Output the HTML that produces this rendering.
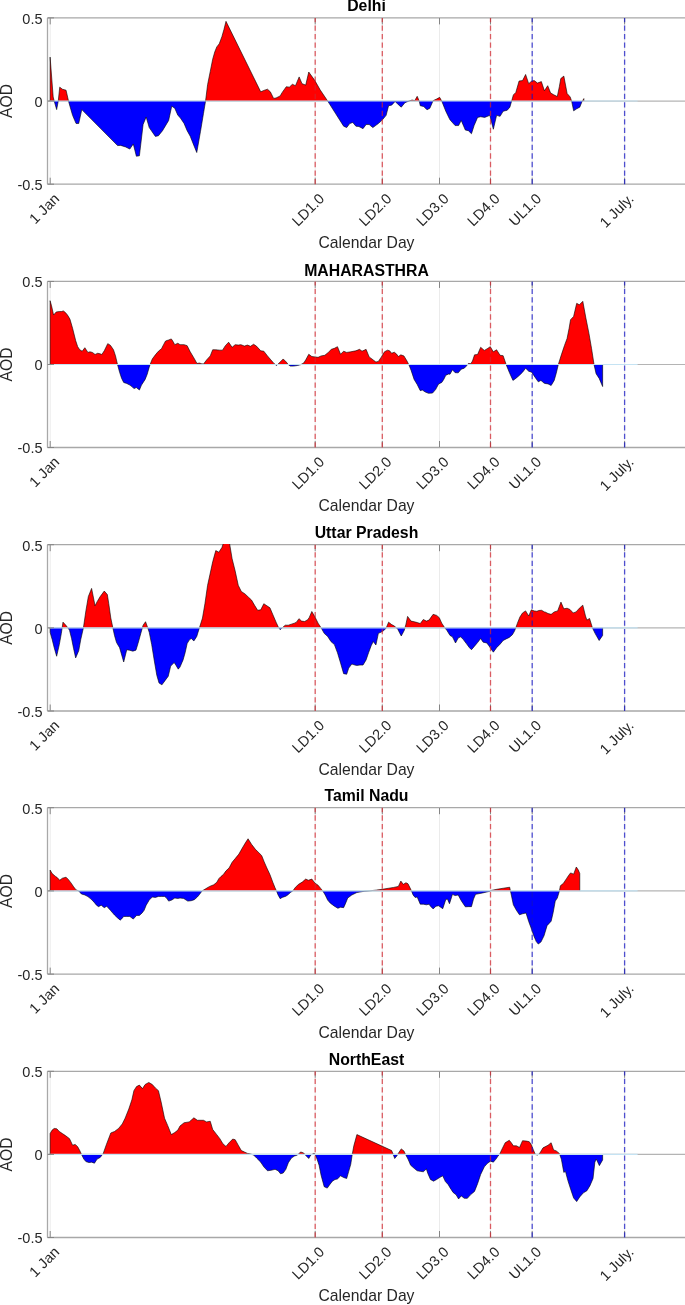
<!DOCTYPE html>
<html><head><meta charset="utf-8"><style>
html,body{margin:0;padding:0;background:#fff;}
svg{display:block;filter:blur(0.45px);}
.t{font-family:"Liberation Sans",sans-serif;font-size:14.5px;fill:#262626;}
.xl{font-family:"Liberation Sans",sans-serif;font-size:15.7px;fill:#262626;}
.ti{font-family:"Liberation Sans",sans-serif;font-size:15.8px;font-weight:bold;fill:#000;}
</style></head><body>
<svg width="685" height="1305" viewBox="0 0 685 1305">
<rect width="685" height="1305" fill="#fff"/>
<g transform="translate(0,101.04)">
<clipPath id="ca0"><rect x="0" y="-83.76" width="700" height="83.76"/></clipPath>
<clipPath id="cb0"><rect x="0" y="0" width="700" height="83.16"/></clipPath>
<clipPath id="cc0"><rect x="0" y="-83.76" width="700" height="167.52"/></clipPath>
<path d="M47.5,-83.16 L686,-83.16 M47.5,-83.16 L47.5,83.16 M47.5,83.16 L686,83.16" stroke="#a8a8a8" stroke-width="1.3" fill="none"/>
<path d="M50.2,-83.16 V83.16 M315.2,-83.16 V83.16 M382.3,-83.16 V83.16 M439.5,-83.16 V83.16 M490.5,-83.16 V83.16 M532.2,-83.16 V83.16 M624.6,-83.16 V83.16" stroke="#ebebeb" stroke-width="1" fill="none"/>
<line x1="47.5" y1="0" x2="686" y2="0" stroke="#b4b4b4" stroke-width="1.2"/>
<path d="M50.11,0 L50.11,-43.94 L53.18,-4.09 L54.2,0Z M58.28,0 L59.72,-13.9 L62.37,-11.85 L66.05,-10.83 L68.5,0Z M205.55,0 L207.59,-16.35 L210.25,-29.64 L212.7,-41.9 L214.74,-49.05 L216.79,-54.16 L219.24,-57.23 L221.9,-64.38 L223.94,-71.53 L225.99,-79.71 L260.73,-9.2 L263.8,-10.63 L267.47,-11.85 L270.34,-9.2 L273.61,-2.66 L276.06,-3.07 L280.15,-5.11 L282.19,-8.58 L286.28,-14.31 L289.34,-13.9 L292.41,-16.76 L295.47,-15.33 L299.15,-24.12 L302.01,-17.37 L305.69,-15.94 L308.76,-29.02 L314.89,-20.44 L320.11,-11.24 L327.67,0Z M409.01,0 L412.08,-1.02 L414.74,-0.41 L417.19,-4.7 L419.23,0Z M432.95,0 L433.13,-0.41 L436.61,-2.04 L439.67,-3.68 L441.72,0Z M511.64,0 L511.93,-1.02 L513.36,-6.13 L515.81,-8.58 L519.08,-20.03 L522.55,-20.44 L525.62,-26.57 L528.69,-17.37 L531.75,-20.03 L534.2,-20.44 L537.47,-17.99 L541.36,-19.42 L544.42,-10.22 L547.69,-15.33 L550.55,-8.18 L553.21,-6.54 L557.3,-4.5 L559.34,-14.31 L560.77,-22.48 L563.84,-24.93 L567.11,-7.56 L570.18,-4.09 L571.61,0Z M582.43,0 L583.87,-2.45 L583.87,0Z" fill="#ff0000" clip-path="url(#cc0)"/>
<path d="M54.2,0 L56.65,8.58 L58.28,0Z M68.5,0 L69.93,5.11 L72.59,14.31 L76.07,22.48 L78.72,22.48 L81.79,8.58 L117.55,44.55 L120.62,44.35 L125.73,45.99 L129.82,48.03 L133.29,42.92 L136.36,55.18 L139.42,54.77 L143.1,23.5 L146.17,15.94 L149.23,26.57 L155.36,35.36 L158.43,34.74 L162.52,29.64 L168.65,19.42 L171.72,5.11 L174.78,7.15 L177.85,14.31 L180,16.35 L184.09,22.48 L187.15,29.64 L190.22,35.15 L193.28,42.92 L196.76,51.5 L200.44,30.66 L203.5,12.26 L205.55,0Z M327.67,0 L335.44,12.26 L343.61,25.14 L346.68,26.57 L349.74,22.48 L352.81,21.46 L355.88,25.14 L358.94,25.55 L363.03,27.59 L366.09,23.5 L369.16,23.5 L372.84,26.57 L378.36,22.48 L382.45,18.8 L386.12,14.31 L388.58,4.7 L391.64,4.09 L395.12,0.41 L398.39,3.68 L401.25,6.13 L404.93,1.64 L409.01,0Z M419.23,0 L420.26,4.7 L423.73,5.52 L427,8.79 L429.86,7.15 L432.95,0Z M441.72,0 L445.8,10.22 L449.28,17.37 L450,18.8 L455.11,24.53 L458.58,24.53 L461.24,19.42 L465.33,29.02 L468.39,29.64 L471.46,32.7 L474.12,24.53 L477.59,16.35 L480.66,15.74 L484.74,16.35 L489.85,14.31 L493.33,28.2 L496.6,14.31 L500.07,15.33 L503.14,10.22 L507.23,9.2 L509.88,6.13 L511.64,0Z M571.61,0 L573.65,9.81 L576.72,7.77 L579.78,6.13 L581.82,1.02 L582.43,0Z" fill="#0000ff" clip-path="url(#cc0)"/>
<path d="M50.11,0 L50.11,-43.94 L53.18,-4.09 L54.2,0 L56.65,8.58 L58.28,0 L59.72,-13.9 L62.37,-11.85 L66.05,-10.83 L68.5,0 L69.93,5.11 L72.59,14.31 L76.07,22.48 L78.72,22.48 L81.79,8.58 L117.55,44.55 L120.62,44.35 L125.73,45.99 L129.82,48.03 L133.29,42.92 L136.36,55.18 L139.42,54.77 L143.1,23.5 L146.17,15.94 L149.23,26.57 L155.36,35.36 L158.43,34.74 L162.52,29.64 L168.65,19.42 L171.72,5.11 L174.78,7.15 L177.85,14.31 L180,16.35 L184.09,22.48 L187.15,29.64 L190.22,35.15 L193.28,42.92 L196.76,51.5 L200.44,30.66 L203.5,12.26 L205.55,0 L207.59,-16.35 L210.25,-29.64 L212.7,-41.9 L214.74,-49.05 L216.79,-54.16 L219.24,-57.23 L221.9,-64.38 L223.94,-71.53 L225.99,-79.71 L260.73,-9.2 L263.8,-10.63 L267.47,-11.85 L270.34,-9.2 L273.61,-2.66 L276.06,-3.07 L280.15,-5.11 L282.19,-8.58 L286.28,-14.31 L289.34,-13.9 L292.41,-16.76 L295.47,-15.33 L299.15,-24.12 L302.01,-17.37 L305.69,-15.94 L308.76,-29.02 L314.89,-20.44 L320.11,-11.24 L327.67,0 L335.44,12.26 L343.61,25.14 L346.68,26.57 L349.74,22.48 L352.81,21.46 L355.88,25.14 L358.94,25.55 L363.03,27.59 L366.09,23.5 L369.16,23.5 L372.84,26.57 L378.36,22.48 L382.45,18.8 L386.12,14.31 L388.58,4.7 L391.64,4.09 L395.12,0.41 L398.39,3.68 L401.25,6.13 L404.93,1.64 L409.01,0 L412.08,-1.02 L414.74,-0.41 L417.19,-4.7 L419.23,0 L420.26,4.7 L423.73,5.52 L427,8.79 L429.86,7.15 L433.13,-0.41 L436.61,-2.04 L439.67,-3.68 L441.72,0 L445.8,10.22 L449.28,17.37 L450,18.8 L455.11,24.53 L458.58,24.53 L461.24,19.42 L465.33,29.02 L468.39,29.64 L471.46,32.7 L474.12,24.53 L477.59,16.35 L480.66,15.74 L484.74,16.35 L489.85,14.31 L493.33,28.2 L496.6,14.31 L500.07,15.33 L503.14,10.22 L507.23,9.2 L509.88,6.13 L511.93,-1.02 L513.36,-6.13 L515.81,-8.58 L519.08,-20.03 L522.55,-20.44 L525.62,-26.57 L528.69,-17.37 L531.75,-20.03 L534.2,-20.44 L537.47,-17.99 L541.36,-19.42 L544.42,-10.22 L547.69,-15.33 L550.55,-8.18 L553.21,-6.54 L557.3,-4.5 L559.34,-14.31 L560.77,-22.48 L563.84,-24.93 L567.11,-7.56 L570.18,-4.09 L571.61,0 L573.65,9.81 L576.72,7.77 L579.78,6.13 L581.82,1.02 L583.87,-2.45 L583.87,0" fill="none" stroke="#000" stroke-width="0.6" stroke-linejoin="round" clip-path="url(#cc0)"/>
<line x1="50.11" y1="0" x2="637.6" y2="0" stroke="#c5e3f3" stroke-width="1.1"/>
<path d="M50.2,-83.16 v6.5 M50.2,83.16 v-6.5 M315.2,-83.16 v6.5 M315.2,83.16 v-6.5 M382.3,-83.16 v6.5 M382.3,83.16 v-6.5 M439.5,-83.16 v6.5 M439.5,83.16 v-6.5 M490.5,-83.16 v6.5 M490.5,83.16 v-6.5 M532.2,-83.16 v6.5 M532.2,83.16 v-6.5 M624.6,-83.16 v6.5 M624.6,83.16 v-6.5 M47.5,-83.16 h6.5 M47.5,0 h6.5 M47.5,83.16 h6.5" stroke="#858585" stroke-width="1" fill="none"/>
<line x1="315.2" y1="83.16" x2="315.2" y2="-83.16" stroke="#d2242c" stroke-opacity="0.72" stroke-width="1.3" stroke-dasharray="5.3,3.225"/>
<line x1="382.3" y1="83.16" x2="382.3" y2="-83.16" stroke="#d2242c" stroke-opacity="0.72" stroke-width="1.3" stroke-dasharray="5.3,3.225"/>
<line x1="490.5" y1="83.16" x2="490.5" y2="-83.16" stroke="#d2242c" stroke-opacity="0.72" stroke-width="1.3" stroke-dasharray="5.3,3.225"/>
<line x1="532.2" y1="83.16" x2="532.2" y2="-83.16" stroke="#1010c4" stroke-opacity="0.72" stroke-width="1.3" stroke-dasharray="5.3,3.225"/>
<line x1="624.6" y1="83.16" x2="624.6" y2="-83.16" stroke="#1010c4" stroke-opacity="0.72" stroke-width="1.3" stroke-dasharray="5.3,3.225"/>
<text x="42.5" y="-77.36" text-anchor="end" class="t">0.5</text>
<text x="42.5" y="5.8" text-anchor="end" class="t">0</text>
<text x="42.5" y="88.96" text-anchor="end" class="t">-0.5</text>
<text transform="translate(60.3,98.56) rotate(-45)" text-anchor="end" class="t">1 Jan</text>
<text transform="translate(325.3,98.56) rotate(-45)" text-anchor="end" class="t">LD1.0</text>
<text transform="translate(392.4,98.56) rotate(-45)" text-anchor="end" class="t">LD2.0</text>
<text transform="translate(449.6,98.56) rotate(-45)" text-anchor="end" class="t">LD3.0</text>
<text transform="translate(500.6,98.56) rotate(-45)" text-anchor="end" class="t">LD4.0</text>
<text transform="translate(542.3,98.56) rotate(-45)" text-anchor="end" class="t">UL1.0</text>
<text transform="translate(634.7,98.56) rotate(-45)" text-anchor="end" class="t">1 July.</text>
<text x="366.5" y="-89.86" text-anchor="middle" class="ti">Delhi</text>
<text x="366.5" y="147.16" text-anchor="middle" class="xl">Calendar Day</text>
<text transform="translate(11.7,0) rotate(-90)" text-anchor="middle" class="xl">AOD</text>
</g>
<g transform="translate(0,364.48)">
<clipPath id="ca1"><rect x="0" y="-83.63" width="700" height="83.63"/></clipPath>
<clipPath id="cb1"><rect x="0" y="0" width="700" height="83.02"/></clipPath>
<clipPath id="cc1"><rect x="0" y="-83.63" width="700" height="167.25"/></clipPath>
<path d="M47.5,-83.03 L686,-83.03 M47.5,-83.03 L47.5,83.02 M47.5,83.02 L686,83.02" stroke="#a8a8a8" stroke-width="1.3" fill="none"/>
<path d="M50.2,-83.03 V83.02 M315.2,-83.03 V83.02 M382.3,-83.03 V83.02 M439.5,-83.03 V83.02 M490.5,-83.03 V83.02 M532.2,-83.03 V83.02 M624.6,-83.03 V83.02" stroke="#ebebeb" stroke-width="1" fill="none"/>
<line x1="47.5" y1="0" x2="686" y2="0" stroke="#b4b4b4" stroke-width="1.2"/>
<path d="M50.11,0 L50.11,-63.77 L51.54,-58.66 L53.58,-49.46 L56.24,-52.53 L59.31,-52.93 L61.35,-52.93 L63.39,-53.55 L65.44,-51.91 L67.48,-49.46 L69.93,-45.37 L72.59,-36.18 L75.66,-23.91 L77.7,-17.78 L79.74,-14.72 L82.2,-13.28 L84.85,-16.76 L87.92,-12.06 L89.96,-12.67 L92.42,-12.06 L95.07,-10.01 L97.73,-11.24 L100.18,-10.63 L101.82,-10.01 L104.27,-13.69 L107.74,-20.85 L110.4,-19.21 L113.47,-14.72 L115.51,-8.58 L117.51,0Z M150.12,0 L150.26,-0.41 L152.3,-5.52 L155.36,-9.61 L158.43,-13.28 L161.5,-15.74 L163.54,-19.82 L165.58,-23.5 L168.65,-24.53 L171.31,-25.55 L172.74,-23.5 L174.78,-19.82 L177.85,-21.26 L180,-19.82 L184.09,-19.82 L187.15,-18.8 L190.22,-12.67 L193.9,-6.54 L196.96,-1.02 L199.42,-1.43 L201.46,-0.82 L203.5,-0.41 L206.57,-4.5 L210.25,-8.58 L212.7,-14.72 L215.77,-14.72 L219.85,-14.31 L222.51,-14.31 L225.37,-18.8 L228.64,-22.28 L232.12,-17.17 L235.18,-19.82 L238.25,-19.42 L240.91,-19.82 L244.38,-18.39 L247.45,-19.42 L250.51,-18.19 L253.58,-20.23 L256.64,-18.19 L260.73,-13.69 L263.8,-13.28 L267.47,-8.58 L270.95,-4.5 L274.01,-1.02 L275.24,0Z M277.64,0 L278.1,-0.41 L280.15,-2.45 L283.21,-5.52 L286.28,-2.45 L288.16,0Z M300.97,0 L303.65,-1.43 L305.69,-4.5 L308.76,-10.22 L311.82,-7.97 L315,-7.56 L318.07,-7.15 L321.13,-8.58 L324.81,-9.2 L328.28,-12.06 L331.35,-15.12 L334.42,-16.15 L337.48,-17.78 L340.55,-10.22 L343.61,-13.28 L346.68,-12.06 L350.77,-12.67 L355.88,-13.69 L359.55,-15.12 L362.01,-13.28 L366.09,-15.12 L369.16,-7.56 L373.25,-4.5 L375.91,-2.45 L378.36,-3.07 L381.42,-7.56 L384.49,-12.67 L387.55,-14.31 L389.6,-13.69 L391.64,-11.24 L394.3,-12.26 L396.34,-10.63 L398.39,-7.97 L400.84,-9.61 L403.91,-8.58 L406.97,-3.47 L408.71,0Z M467.61,0 L468.39,-1.02 L470.85,-0.82 L472.48,-3.47 L474.53,-9.61 L477.59,-10.01 L480.66,-17.17 L484.34,-14.1 L487.2,-15.74 L490.26,-17.78 L493.33,-12.67 L496.6,-14.72 L500.07,-9.2 L503.14,-8.79 L506.13,0Z M558.35,0 L561.35,-9.61 L564.42,-18.8 L567.07,-25.96 L569.12,-36.18 L570.55,-44.76 L573.61,-48.03 L576.68,-61.11 L579.34,-59.68 L582.81,-63.15 L585.88,-46.39 L588.94,-31.07 L591.6,-15.74 L594.02,0Z" fill="#ff0000" clip-path="url(#cc1)"/>
<path d="M117.51,0 L117.55,0.2 L119.6,7.77 L121.64,13.9 L123.69,17.99 L126.75,19.01 L129.82,20.64 L131.86,22.07 L133.91,24.12 L136.36,23.09 L139.42,25.55 L141.47,20.64 L145.15,14.92 L147.19,9.81 L149.23,2.66 L150.12,0Z M275.24,0 L276.47,1.02 L277.64,0Z M288.16,0 L288.32,0.2 L290.36,1.64 L293.43,1.64 L297.52,1.02 L300.58,0.2 L300.97,0Z M408.71,0 L409.01,0.61 L411.06,5.72 L414.12,14.92 L417.19,20.03 L420.26,26.16 L422.3,25.55 L425.36,27.59 L428.43,28.82 L432.52,28.61 L435.58,25.14 L438.65,19.42 L441.72,17.99 L443.76,14.92 L445.8,10.83 L448.87,9.4 L450,9.81 L452.45,5.31 L455.11,8.18 L458.18,8.38 L461.24,4.7 L464.31,3.68 L466.35,1.64 L467.61,0Z M506.13,0 L506.2,0.2 L509.27,7.77 L512.95,15.94 L515.81,13.9 L519.49,10.83 L522.55,7.77 L525.62,3.68 L528.69,6.74 L531.75,7.77 L534.82,12.47 L538.29,17.37 L540.95,15.94 L544.01,18.6 L545,19.01 L548.07,19.42 L551.13,21.05 L554.2,15.94 L556.24,8.79 L558.28,0.2 L558.35,0Z M594.02,0 L594.05,0.2 L596.09,9.2 L599.16,13.9 L602.64,22.07 L602.64,0Z" fill="#0000ff" clip-path="url(#cc1)"/>
<path d="M50.11,0 L50.11,-63.77 L51.54,-58.66 L53.58,-49.46 L56.24,-52.53 L59.31,-52.93 L61.35,-52.93 L63.39,-53.55 L65.44,-51.91 L67.48,-49.46 L69.93,-45.37 L72.59,-36.18 L75.66,-23.91 L77.7,-17.78 L79.74,-14.72 L82.2,-13.28 L84.85,-16.76 L87.92,-12.06 L89.96,-12.67 L92.42,-12.06 L95.07,-10.01 L97.73,-11.24 L100.18,-10.63 L101.82,-10.01 L104.27,-13.69 L107.74,-20.85 L110.4,-19.21 L113.47,-14.72 L115.51,-8.58 L117.55,0.2 L119.6,7.77 L121.64,13.9 L123.69,17.99 L126.75,19.01 L129.82,20.64 L131.86,22.07 L133.91,24.12 L136.36,23.09 L139.42,25.55 L141.47,20.64 L145.15,14.92 L147.19,9.81 L149.23,2.66 L150.26,-0.41 L152.3,-5.52 L155.36,-9.61 L158.43,-13.28 L161.5,-15.74 L163.54,-19.82 L165.58,-23.5 L168.65,-24.53 L171.31,-25.55 L172.74,-23.5 L174.78,-19.82 L177.85,-21.26 L180,-19.82 L184.09,-19.82 L187.15,-18.8 L190.22,-12.67 L193.9,-6.54 L196.96,-1.02 L199.42,-1.43 L201.46,-0.82 L203.5,-0.41 L206.57,-4.5 L210.25,-8.58 L212.7,-14.72 L215.77,-14.72 L219.85,-14.31 L222.51,-14.31 L225.37,-18.8 L228.64,-22.28 L232.12,-17.17 L235.18,-19.82 L238.25,-19.42 L240.91,-19.82 L244.38,-18.39 L247.45,-19.42 L250.51,-18.19 L253.58,-20.23 L256.64,-18.19 L260.73,-13.69 L263.8,-13.28 L267.47,-8.58 L270.95,-4.5 L274.01,-1.02 L276.47,1.02 L278.1,-0.41 L280.15,-2.45 L283.21,-5.52 L286.28,-2.45 L288.32,0.2 L290.36,1.64 L293.43,1.64 L297.52,1.02 L300.58,0.2 L303.65,-1.43 L305.69,-4.5 L308.76,-10.22 L311.82,-7.97 L315,-7.56 L318.07,-7.15 L321.13,-8.58 L324.81,-9.2 L328.28,-12.06 L331.35,-15.12 L334.42,-16.15 L337.48,-17.78 L340.55,-10.22 L343.61,-13.28 L346.68,-12.06 L350.77,-12.67 L355.88,-13.69 L359.55,-15.12 L362.01,-13.28 L366.09,-15.12 L369.16,-7.56 L373.25,-4.5 L375.91,-2.45 L378.36,-3.07 L381.42,-7.56 L384.49,-12.67 L387.55,-14.31 L389.6,-13.69 L391.64,-11.24 L394.3,-12.26 L396.34,-10.63 L398.39,-7.97 L400.84,-9.61 L403.91,-8.58 L406.97,-3.47 L409.01,0.61 L411.06,5.72 L414.12,14.92 L417.19,20.03 L420.26,26.16 L422.3,25.55 L425.36,27.59 L428.43,28.82 L432.52,28.61 L435.58,25.14 L438.65,19.42 L441.72,17.99 L443.76,14.92 L445.8,10.83 L448.87,9.4 L450,9.81 L452.45,5.31 L455.11,8.18 L458.18,8.38 L461.24,4.7 L464.31,3.68 L466.35,1.64 L468.39,-1.02 L470.85,-0.82 L472.48,-3.47 L474.53,-9.61 L477.59,-10.01 L480.66,-17.17 L484.34,-14.1 L487.2,-15.74 L490.26,-17.78 L493.33,-12.67 L496.6,-14.72 L500.07,-9.2 L503.14,-8.79 L506.2,0.2 L509.27,7.77 L512.95,15.94 L515.81,13.9 L519.49,10.83 L522.55,7.77 L525.62,3.68 L528.69,6.74 L531.75,7.77 L534.82,12.47 L538.29,17.37 L540.95,15.94 L544.01,18.6 L545,19.01 L548.07,19.42 L551.13,21.05 L554.2,15.94 L556.24,8.79 L558.28,0.2 L561.35,-9.61 L564.42,-18.8 L567.07,-25.96 L569.12,-36.18 L570.55,-44.76 L573.61,-48.03 L576.68,-61.11 L579.34,-59.68 L582.81,-63.15 L585.88,-46.39 L588.94,-31.07 L591.6,-15.74 L594.05,0.2 L596.09,9.2 L599.16,13.9 L602.64,22.07 L602.64,0" fill="none" stroke="#000" stroke-width="0.6" stroke-linejoin="round" clip-path="url(#cc1)"/>
<line x1="50.11" y1="0" x2="637.6" y2="0" stroke="#c5e3f3" stroke-width="1.1"/>
<path d="M50.2,-83.03 v6.5 M50.2,83.02 v-6.5 M315.2,-83.03 v6.5 M315.2,83.02 v-6.5 M382.3,-83.03 v6.5 M382.3,83.02 v-6.5 M439.5,-83.03 v6.5 M439.5,83.02 v-6.5 M490.5,-83.03 v6.5 M490.5,83.02 v-6.5 M532.2,-83.03 v6.5 M532.2,83.02 v-6.5 M624.6,-83.03 v6.5 M624.6,83.02 v-6.5 M47.5,-83.03 h6.5 M47.5,0 h6.5 M47.5,83.02 h6.5" stroke="#858585" stroke-width="1" fill="none"/>
<line x1="315.2" y1="83.02" x2="315.2" y2="-83.03" stroke="#d2242c" stroke-opacity="0.72" stroke-width="1.3" stroke-dasharray="5.3,3.225"/>
<line x1="382.3" y1="83.02" x2="382.3" y2="-83.03" stroke="#d2242c" stroke-opacity="0.72" stroke-width="1.3" stroke-dasharray="5.3,3.225"/>
<line x1="490.5" y1="83.02" x2="490.5" y2="-83.03" stroke="#d2242c" stroke-opacity="0.72" stroke-width="1.3" stroke-dasharray="5.3,3.225"/>
<line x1="532.2" y1="83.02" x2="532.2" y2="-83.03" stroke="#1010c4" stroke-opacity="0.72" stroke-width="1.3" stroke-dasharray="5.3,3.225"/>
<line x1="624.6" y1="83.02" x2="624.6" y2="-83.03" stroke="#1010c4" stroke-opacity="0.72" stroke-width="1.3" stroke-dasharray="5.3,3.225"/>
<text x="42.5" y="-77.23" text-anchor="end" class="t">0.5</text>
<text x="42.5" y="5.8" text-anchor="end" class="t">0</text>
<text x="42.5" y="88.82" text-anchor="end" class="t">-0.5</text>
<text transform="translate(60.3,98.42) rotate(-45)" text-anchor="end" class="t">1 Jan</text>
<text transform="translate(325.3,98.42) rotate(-45)" text-anchor="end" class="t">LD1.0</text>
<text transform="translate(392.4,98.42) rotate(-45)" text-anchor="end" class="t">LD2.0</text>
<text transform="translate(449.6,98.42) rotate(-45)" text-anchor="end" class="t">LD3.0</text>
<text transform="translate(500.6,98.42) rotate(-45)" text-anchor="end" class="t">LD4.0</text>
<text transform="translate(542.3,98.42) rotate(-45)" text-anchor="end" class="t">UL1.0</text>
<text transform="translate(634.7,98.42) rotate(-45)" text-anchor="end" class="t">1 July.</text>
<text x="366.5" y="-88.83" text-anchor="middle" class="ti">MAHARASTHRA</text>
<text x="366.5" y="147.02" text-anchor="middle" class="xl">Calendar Day</text>
<text transform="translate(11.7,0) rotate(-90)" text-anchor="middle" class="xl">AOD</text>
</g>
<g transform="translate(0,627.85)">
<clipPath id="ca2"><rect x="0" y="-83.75" width="700" height="83.75"/></clipPath>
<clipPath id="cb2"><rect x="0" y="0" width="700" height="83.15"/></clipPath>
<clipPath id="cc2"><rect x="0" y="-83.75" width="700" height="167.5"/></clipPath>
<path d="M47.5,-83.15 L686,-83.15 M47.5,-83.15 L47.5,83.15 M47.5,83.15 L686,83.15" stroke="#a8a8a8" stroke-width="1.3" fill="none"/>
<path d="M50.2,-83.15 V83.15 M315.2,-83.15 V83.15 M382.3,-83.15 V83.15 M439.5,-83.15 V83.15 M490.5,-83.15 V83.15 M532.2,-83.15 V83.15 M624.6,-83.15 V83.15" stroke="#ebebeb" stroke-width="1" fill="none"/>
<line x1="47.5" y1="0" x2="686" y2="0" stroke="#b4b4b4" stroke-width="1.2"/>
<path d="M62.15,0 L62.99,-5.72 L65.44,-3.07 L67.89,0Z M83.42,0 L85.88,-16.96 L88.33,-31.27 L91.6,-39.45 L95.07,-22.07 L97.12,-26.16 L100.18,-31.27 L104.27,-36.79 L107.34,-33.31 L108.77,-24.12 L110.81,-9.81 L112.85,0Z M142.36,0 L143.1,-2.66 L145.55,-6.13 L147.19,-1.64 L147.73,0Z M199.42,0 L202.48,-9.81 L204.93,-24.12 L207.59,-42.51 L210.25,-54.77 L212.7,-66.01 L215.77,-77.26 L218.83,-75.62 L221.9,-80.32 L223.53,-85.02 L229.46,-85.02 L232.12,-69.08 L235.18,-56.82 L238.25,-42.51 L241.31,-36.38 L244.99,-33.93 L248.47,-30.66 L251.53,-27.8 L254.6,-22.48 L257.66,-17.58 L260.73,-17.99 L263.8,-24.12 L266.86,-22.07 L269.93,-20.03 L272.99,-12.88 L276.06,-5.72 L278.1,-1.23 L278.92,0Z M282.19,0 L285.26,-2.66 L288.32,-2.66 L291.39,-3.68 L294.45,-4.7 L296.5,-5.72 L298.95,-9.2 L301.61,-6.74 L304.67,-6.34 L307.74,-8.18 L309.17,-10.22 L311.82,-16.35 L315,-10.83 L318.07,-4.7 L321.13,0Z M386.29,0 L388.58,-5.72 L391.64,-3.27 L394.71,-1.64 L396.34,0Z M404.97,0 L405.95,-3.68 L407.58,-11.45 L411.06,-6.74 L414.12,-6.13 L417.19,-5.31 L420.26,-4.29 L423.32,-8.38 L426.39,-6.74 L429.04,-7.77 L433.13,-13.49 L436.61,-12.47 L439.26,-10.22 L441.72,-4.7 L444.78,0Z M515.81,0 L517.45,-4.7 L519.9,-10.83 L522.55,-14.92 L525.62,-16.96 L528.69,-11.85 L531.34,-17.99 L534.2,-16.96 L536.86,-16.55 L538.91,-17.37 L541.56,-17.58 L544.42,-15.94 L545,-15.94 L548.07,-14.31 L551.13,-13.49 L554.2,-15.94 L557.67,-16.96 L560.94,-25.75 L563.8,-19.01 L567.07,-19.62 L569.93,-18.39 L573.2,-14.92 L576.07,-15.94 L579.34,-19.62 L582.81,-22.69 L585.47,-11.85 L586.9,-7.77 L589.55,-9.4 L592.42,0Z" fill="#ff0000" clip-path="url(#cc2)"/>
<path d="M50.11,0 L50.11,4.5 L52.15,11.65 L54.2,19.82 L56.65,28.41 L59.31,16.76 L61.35,5.52 L62.15,0Z M67.89,0 L69.53,2.45 L71.57,10.63 L73.61,20.85 L75.66,30.04 L78.72,22.89 L80.77,11.65 L83.42,0Z M112.85,0 L114.49,7.56 L116.53,14.72 L119.6,19.82 L123.69,34.13 L126.75,21.87 L129.82,22.48 L132.88,23.3 L135.95,22.28 L137.99,15.74 L140.65,6.13 L142.36,0Z M147.73,0 L149.23,4.5 L151.69,16.76 L154.34,33.11 L156.8,47.42 L159.04,55.18 L161.91,57.02 L165.18,52.53 L168.24,48.44 L170.69,38.22 L174.17,34.74 L175.8,37.2 L178.26,41.28 L180,39.24 L183.07,32.09 L185.11,24.93 L187.15,15.74 L189.2,12.26 L191.24,10.63 L193.9,13.08 L196.76,8.58 L199.42,0Z M278.92,0 L280.15,1.84 L282.19,0Z M321.13,0 L324.2,5.52 L327.67,8.58 L330.94,13.69 L334.42,16.76 L337.48,24.93 L340.55,35.15 L343.61,45.78 L346.68,46.39 L348.72,40.26 L351.79,36.18 L354.85,37.2 L356.9,37.61 L359.96,37.2 L363.03,37.2 L366.09,32.09 L368.55,24.93 L371.2,17.78 L373.25,13.69 L375.91,17.17 L378.36,5.52 L380.81,4.5 L383.47,2.86 L386.12,0.41 L386.29,0Z M396.34,0 L397.77,1.43 L401.25,8.18 L404.31,2.45 L404.97,0Z M444.78,0 L446.82,2.45 L450,7.56 L452.45,8.99 L455.52,15.12 L458.18,10.22 L460.63,8.99 L463.28,11.65 L466.35,15.74 L469.42,19.82 L471.46,21.87 L474.12,18.8 L477.59,14.72 L480.66,10.63 L483.11,14.31 L486.79,15.12 L488.83,17.78 L490.88,20.85 L493.33,24.32 L496.6,19.82 L500.07,16.35 L503.14,12.67 L506.2,11.04 L509.27,9.61 L512.34,6.95 L514.38,3.47 L515.81,0Z M592.42,0 L595.07,5.52 L599.16,12.67 L602.64,7.56 L602.64,0Z" fill="#0000ff" clip-path="url(#cc2)"/>
<path d="M50.11,0 L50.11,4.5 L52.15,11.65 L54.2,19.82 L56.65,28.41 L59.31,16.76 L61.35,5.52 L62.99,-5.72 L65.44,-3.07 L67.89,0 L69.53,2.45 L71.57,10.63 L73.61,20.85 L75.66,30.04 L78.72,22.89 L80.77,11.65 L83.42,0 L85.88,-16.96 L88.33,-31.27 L91.6,-39.45 L95.07,-22.07 L97.12,-26.16 L100.18,-31.27 L104.27,-36.79 L107.34,-33.31 L108.77,-24.12 L110.81,-9.81 L112.85,0 L114.49,7.56 L116.53,14.72 L119.6,19.82 L123.69,34.13 L126.75,21.87 L129.82,22.48 L132.88,23.3 L135.95,22.28 L137.99,15.74 L140.65,6.13 L143.1,-2.66 L145.55,-6.13 L147.19,-1.64 L149.23,4.5 L151.69,16.76 L154.34,33.11 L156.8,47.42 L159.04,55.18 L161.91,57.02 L165.18,52.53 L168.24,48.44 L170.69,38.22 L174.17,34.74 L175.8,37.2 L178.26,41.28 L180,39.24 L183.07,32.09 L185.11,24.93 L187.15,15.74 L189.2,12.26 L191.24,10.63 L193.9,13.08 L196.76,8.58 L199.42,0 L202.48,-9.81 L204.93,-24.12 L207.59,-42.51 L210.25,-54.77 L212.7,-66.01 L215.77,-77.26 L218.83,-75.62 L221.9,-80.32 L223.53,-85.02 L229.46,-85.02 L232.12,-69.08 L235.18,-56.82 L238.25,-42.51 L241.31,-36.38 L244.99,-33.93 L248.47,-30.66 L251.53,-27.8 L254.6,-22.48 L257.66,-17.58 L260.73,-17.99 L263.8,-24.12 L266.86,-22.07 L269.93,-20.03 L272.99,-12.88 L276.06,-5.72 L278.1,-1.23 L280.15,1.84 L282.19,0 L285.26,-2.66 L288.32,-2.66 L291.39,-3.68 L294.45,-4.7 L296.5,-5.72 L298.95,-9.2 L301.61,-6.74 L304.67,-6.34 L307.74,-8.18 L309.17,-10.22 L311.82,-16.35 L315,-10.83 L318.07,-4.7 L321.13,0 L324.2,5.52 L327.67,8.58 L330.94,13.69 L334.42,16.76 L337.48,24.93 L340.55,35.15 L343.61,45.78 L346.68,46.39 L348.72,40.26 L351.79,36.18 L354.85,37.2 L356.9,37.61 L359.96,37.2 L363.03,37.2 L366.09,32.09 L368.55,24.93 L371.2,17.78 L373.25,13.69 L375.91,17.17 L378.36,5.52 L380.81,4.5 L383.47,2.86 L386.12,0.41 L388.58,-5.72 L391.64,-3.27 L394.71,-1.64 L397.77,1.43 L401.25,8.18 L404.31,2.45 L405.95,-3.68 L407.58,-11.45 L411.06,-6.74 L414.12,-6.13 L417.19,-5.31 L420.26,-4.29 L423.32,-8.38 L426.39,-6.74 L429.04,-7.77 L433.13,-13.49 L436.61,-12.47 L439.26,-10.22 L441.72,-4.7 L444.78,0 L446.82,2.45 L450,7.56 L452.45,8.99 L455.52,15.12 L458.18,10.22 L460.63,8.99 L463.28,11.65 L466.35,15.74 L469.42,19.82 L471.46,21.87 L474.12,18.8 L477.59,14.72 L480.66,10.63 L483.11,14.31 L486.79,15.12 L488.83,17.78 L490.88,20.85 L493.33,24.32 L496.6,19.82 L500.07,16.35 L503.14,12.67 L506.2,11.04 L509.27,9.61 L512.34,6.95 L514.38,3.47 L515.81,0 L517.45,-4.7 L519.9,-10.83 L522.55,-14.92 L525.62,-16.96 L528.69,-11.85 L531.34,-17.99 L534.2,-16.96 L536.86,-16.55 L538.91,-17.37 L541.56,-17.58 L544.42,-15.94 L545,-15.94 L548.07,-14.31 L551.13,-13.49 L554.2,-15.94 L557.67,-16.96 L560.94,-25.75 L563.8,-19.01 L567.07,-19.62 L569.93,-18.39 L573.2,-14.92 L576.07,-15.94 L579.34,-19.62 L582.81,-22.69 L585.47,-11.85 L586.9,-7.77 L589.55,-9.4 L592.42,0 L595.07,5.52 L599.16,12.67 L602.64,7.56 L602.64,0" fill="none" stroke="#000" stroke-width="0.6" stroke-linejoin="round" clip-path="url(#cc2)"/>
<line x1="50.11" y1="0" x2="637.6" y2="0" stroke="#c5e3f3" stroke-width="1.1"/>
<path d="M50.2,-83.15 v6.5 M50.2,83.15 v-6.5 M315.2,-83.15 v6.5 M315.2,83.15 v-6.5 M382.3,-83.15 v6.5 M382.3,83.15 v-6.5 M439.5,-83.15 v6.5 M439.5,83.15 v-6.5 M490.5,-83.15 v6.5 M490.5,83.15 v-6.5 M532.2,-83.15 v6.5 M532.2,83.15 v-6.5 M624.6,-83.15 v6.5 M624.6,83.15 v-6.5 M47.5,-83.15 h6.5 M47.5,0 h6.5 M47.5,83.15 h6.5" stroke="#858585" stroke-width="1" fill="none"/>
<line x1="315.2" y1="83.15" x2="315.2" y2="-83.15" stroke="#d2242c" stroke-opacity="0.72" stroke-width="1.3" stroke-dasharray="5.3,3.225"/>
<line x1="382.3" y1="83.15" x2="382.3" y2="-83.15" stroke="#d2242c" stroke-opacity="0.72" stroke-width="1.3" stroke-dasharray="5.3,3.225"/>
<line x1="490.5" y1="83.15" x2="490.5" y2="-83.15" stroke="#d2242c" stroke-opacity="0.72" stroke-width="1.3" stroke-dasharray="5.3,3.225"/>
<line x1="532.2" y1="83.15" x2="532.2" y2="-83.15" stroke="#1010c4" stroke-opacity="0.72" stroke-width="1.3" stroke-dasharray="5.3,3.225"/>
<line x1="624.6" y1="83.15" x2="624.6" y2="-83.15" stroke="#1010c4" stroke-opacity="0.72" stroke-width="1.3" stroke-dasharray="5.3,3.225"/>
<text x="42.5" y="-77.35" text-anchor="end" class="t">0.5</text>
<text x="42.5" y="5.8" text-anchor="end" class="t">0</text>
<text x="42.5" y="88.95" text-anchor="end" class="t">-0.5</text>
<text transform="translate(60.3,98.55) rotate(-45)" text-anchor="end" class="t">1 Jan</text>
<text transform="translate(325.3,98.55) rotate(-45)" text-anchor="end" class="t">LD1.0</text>
<text transform="translate(392.4,98.55) rotate(-45)" text-anchor="end" class="t">LD2.0</text>
<text transform="translate(449.6,98.55) rotate(-45)" text-anchor="end" class="t">LD3.0</text>
<text transform="translate(500.6,98.55) rotate(-45)" text-anchor="end" class="t">LD4.0</text>
<text transform="translate(542.3,98.55) rotate(-45)" text-anchor="end" class="t">UL1.0</text>
<text transform="translate(634.7,98.55) rotate(-45)" text-anchor="end" class="t">1 July.</text>
<text x="366.5" y="-89.65" text-anchor="middle" class="ti">Uttar Pradesh</text>
<text x="366.5" y="147.15" text-anchor="middle" class="xl">Calendar Day</text>
<text transform="translate(11.7,0) rotate(-90)" text-anchor="middle" class="xl">AOD</text>
</g>
<g transform="translate(0,890.9)">
<clipPath id="ca3"><rect x="0" y="-83.8" width="700" height="83.8"/></clipPath>
<clipPath id="cb3"><rect x="0" y="0" width="700" height="83.2"/></clipPath>
<clipPath id="cc3"><rect x="0" y="-83.8" width="700" height="167.6"/></clipPath>
<path d="M47.5,-83.2 L686,-83.2 M47.5,-83.2 L47.5,83.2 M47.5,83.2 L686,83.2" stroke="#a8a8a8" stroke-width="1.3" fill="none"/>
<path d="M50.2,-83.2 V83.2 M315.2,-83.2 V83.2 M382.3,-83.2 V83.2 M439.5,-83.2 V83.2 M490.5,-83.2 V83.2 M532.2,-83.2 V83.2 M624.6,-83.2 V83.2" stroke="#ebebeb" stroke-width="1" fill="none"/>
<line x1="47.5" y1="0" x2="686" y2="0" stroke="#b4b4b4" stroke-width="1.2"/>
<path d="M50.11,0 L50.11,-20.85 L52.15,-17.37 L55.22,-14.72 L57.26,-13.28 L59.72,-10.63 L62.37,-12.67 L66.05,-13.69 L68.5,-11.24 L71.16,-7.77 L73.61,-4.09 L76.07,-1.02 L78.72,0Z M202.07,0 L205.55,-2.04 L209.64,-4.5 L213.72,-6.13 L216.79,-8.58 L218.83,-12.26 L220.88,-14.31 L223.33,-16.35 L225.99,-20.03 L229.05,-22.89 L232.12,-28.61 L235.18,-32.29 L238.86,-36.79 L242.34,-42.92 L245.4,-48.03 L248.06,-52.12 L251.53,-46.6 L255.62,-41.28 L258.69,-38.42 L261.75,-35.15 L264.2,-29.02 L266.86,-22.89 L269.93,-16.35 L272.99,-8.18 L275.04,-3.07 L276.47,0Z M292.82,0 L295.47,-3.68 L298.54,-6.54 L302.22,-8.79 L305.69,-11.85 L308.35,-10.63 L311.82,-11.85 L315,-7.77 L318.07,-5.72 L320.72,-2.45 L322.77,0Z M369.16,0 L376.31,-0.82 L382.45,-1.64 L388.58,-2.66 L393.69,-3.47 L398.39,-4.5 L400.84,-9.81 L403.29,-6.54 L405.95,-8.18 L407.99,-7.15 L410.04,-3.07 L411.47,0Z M490.36,0 L490.88,-0.41 L497.01,-1.64 L503.14,-2.66 L509.68,-3.68 L510.45,0Z M559.42,0 L560.36,-5.11 L563.43,-7.56 L566.5,-12.26 L568.54,-15.33 L570.58,-17.99 L573.65,-16.76 L576.31,-23.91 L578.35,-20.85 L579.78,-17.37 L579.78,0Z" fill="#ff0000" clip-path="url(#cc3)"/>
<path d="M78.72,0 L81.38,3.07 L84.85,4.09 L87.92,5.72 L90.99,8.18 L94.05,11.24 L96.5,14.31 L98.55,15.74 L101.2,14.31 L104.27,16.76 L106.72,15.33 L110.4,19.42 L114.49,24.12 L117.55,26.98 L120.21,29.23 L121.64,28 L123.69,25.55 L126.75,25.55 L129.82,25.55 L133.29,28.2 L136.56,24.53 L139.42,24.53 L142.08,22.07 L144.12,19.42 L146.17,14.31 L149.23,9.2 L152.3,6.13 L155.36,6.54 L158.43,5.52 L161.5,5.52 L164.56,5.52 L166.61,7.15 L168.65,10.22 L171.72,9.2 L174.78,7.15 L177.85,7.56 L180,7.15 L183.68,7.56 L187.77,10.22 L191.24,9.81 L194.31,8.79 L197.37,6.13 L199.42,3.68 L202.07,0Z M276.47,0 L278.1,4.09 L280.15,7.77 L282.19,6.54 L285.87,5.31 L288.32,3.68 L290.36,1.64 L292.82,0Z M322.77,0 L325.22,4.09 L327.67,9.2 L330.33,12.26 L334.42,15.33 L337.89,17.37 L340.55,16.35 L343.61,16.76 L345.66,12.26 L347.7,7.15 L351.79,4.09 L356.9,1.64 L364.05,0.41 L369.16,0Z M411.47,0 L413.1,4.09 L415.15,6.54 L417.19,6.13 L420.26,13.28 L423.32,13.28 L426.39,13.9 L429.04,13.28 L430.47,15.33 L433.13,17.99 L435.99,15.33 L438.65,14.92 L442.74,17.78 L445.8,8.58 L447.44,8.18 L449.48,12.88 L450,11.24 L452.45,3.47 L455.11,4.7 L458.18,4.09 L461.24,9.81 L465.33,15.94 L468.39,15.74 L471.46,15.74 L473.5,8.18 L475.55,3.47 L482.7,2.04 L489.85,0.41 L490.36,0Z M510.45,0 L511.31,4.09 L513.36,13.9 L516.42,19.42 L519.49,23.91 L522.55,22.89 L526.03,22.07 L528.69,30.66 L531.75,38.83 L533.8,44.96 L536.25,50.69 L538.29,53.14 L540.95,51.09 L544.01,44.96 L547.08,34.74 L551.17,30.25 L553.21,21.46 L555.26,10.22 L557.3,7.15 L559.34,0.41 L559.42,0Z" fill="#0000ff" clip-path="url(#cc3)"/>
<path d="M50.11,0 L50.11,-20.85 L52.15,-17.37 L55.22,-14.72 L57.26,-13.28 L59.72,-10.63 L62.37,-12.67 L66.05,-13.69 L68.5,-11.24 L71.16,-7.77 L73.61,-4.09 L76.07,-1.02 L78.72,0 L81.38,3.07 L84.85,4.09 L87.92,5.72 L90.99,8.18 L94.05,11.24 L96.5,14.31 L98.55,15.74 L101.2,14.31 L104.27,16.76 L106.72,15.33 L110.4,19.42 L114.49,24.12 L117.55,26.98 L120.21,29.23 L121.64,28 L123.69,25.55 L126.75,25.55 L129.82,25.55 L133.29,28.2 L136.56,24.53 L139.42,24.53 L142.08,22.07 L144.12,19.42 L146.17,14.31 L149.23,9.2 L152.3,6.13 L155.36,6.54 L158.43,5.52 L161.5,5.52 L164.56,5.52 L166.61,7.15 L168.65,10.22 L171.72,9.2 L174.78,7.15 L177.85,7.56 L180,7.15 L183.68,7.56 L187.77,10.22 L191.24,9.81 L194.31,8.79 L197.37,6.13 L199.42,3.68 L202.07,0 L205.55,-2.04 L209.64,-4.5 L213.72,-6.13 L216.79,-8.58 L218.83,-12.26 L220.88,-14.31 L223.33,-16.35 L225.99,-20.03 L229.05,-22.89 L232.12,-28.61 L235.18,-32.29 L238.86,-36.79 L242.34,-42.92 L245.4,-48.03 L248.06,-52.12 L251.53,-46.6 L255.62,-41.28 L258.69,-38.42 L261.75,-35.15 L264.2,-29.02 L266.86,-22.89 L269.93,-16.35 L272.99,-8.18 L275.04,-3.07 L276.47,0 L278.1,4.09 L280.15,7.77 L282.19,6.54 L285.87,5.31 L288.32,3.68 L290.36,1.64 L292.82,0 L295.47,-3.68 L298.54,-6.54 L302.22,-8.79 L305.69,-11.85 L308.35,-10.63 L311.82,-11.85 L315,-7.77 L318.07,-5.72 L320.72,-2.45 L322.77,0 L325.22,4.09 L327.67,9.2 L330.33,12.26 L334.42,15.33 L337.89,17.37 L340.55,16.35 L343.61,16.76 L345.66,12.26 L347.7,7.15 L351.79,4.09 L356.9,1.64 L364.05,0.41 L369.16,0 L376.31,-0.82 L382.45,-1.64 L388.58,-2.66 L393.69,-3.47 L398.39,-4.5 L400.84,-9.81 L403.29,-6.54 L405.95,-8.18 L407.99,-7.15 L410.04,-3.07 L411.47,0 L413.1,4.09 L415.15,6.54 L417.19,6.13 L420.26,13.28 L423.32,13.28 L426.39,13.9 L429.04,13.28 L430.47,15.33 L433.13,17.99 L435.99,15.33 L438.65,14.92 L442.74,17.78 L445.8,8.58 L447.44,8.18 L449.48,12.88 L450,11.24 L452.45,3.47 L455.11,4.7 L458.18,4.09 L461.24,9.81 L465.33,15.94 L468.39,15.74 L471.46,15.74 L473.5,8.18 L475.55,3.47 L482.7,2.04 L489.85,0.41 L490.88,-0.41 L497.01,-1.64 L503.14,-2.66 L509.68,-3.68 L511.31,4.09 L513.36,13.9 L516.42,19.42 L519.49,23.91 L522.55,22.89 L526.03,22.07 L528.69,30.66 L531.75,38.83 L533.8,44.96 L536.25,50.69 L538.29,53.14 L540.95,51.09 L544.01,44.96 L547.08,34.74 L551.17,30.25 L553.21,21.46 L555.26,10.22 L557.3,7.15 L559.34,0.41 L560.36,-5.11 L563.43,-7.56 L566.5,-12.26 L568.54,-15.33 L570.58,-17.99 L573.65,-16.76 L576.31,-23.91 L578.35,-20.85 L579.78,-17.37 L579.78,0" fill="none" stroke="#000" stroke-width="0.6" stroke-linejoin="round" clip-path="url(#cc3)"/>
<line x1="50.11" y1="0" x2="637.6" y2="0" stroke="#c5e3f3" stroke-width="1.1"/>
<path d="M50.2,-83.2 v6.5 M50.2,83.2 v-6.5 M315.2,-83.2 v6.5 M315.2,83.2 v-6.5 M382.3,-83.2 v6.5 M382.3,83.2 v-6.5 M439.5,-83.2 v6.5 M439.5,83.2 v-6.5 M490.5,-83.2 v6.5 M490.5,83.2 v-6.5 M532.2,-83.2 v6.5 M532.2,83.2 v-6.5 M624.6,-83.2 v6.5 M624.6,83.2 v-6.5 M47.5,-83.2 h6.5 M47.5,0 h6.5 M47.5,83.2 h6.5" stroke="#858585" stroke-width="1" fill="none"/>
<line x1="315.2" y1="83.2" x2="315.2" y2="-83.2" stroke="#d2242c" stroke-opacity="0.72" stroke-width="1.3" stroke-dasharray="5.3,3.225"/>
<line x1="382.3" y1="83.2" x2="382.3" y2="-83.2" stroke="#d2242c" stroke-opacity="0.72" stroke-width="1.3" stroke-dasharray="5.3,3.225"/>
<line x1="490.5" y1="83.2" x2="490.5" y2="-83.2" stroke="#d2242c" stroke-opacity="0.72" stroke-width="1.3" stroke-dasharray="5.3,3.225"/>
<line x1="532.2" y1="83.2" x2="532.2" y2="-83.2" stroke="#1010c4" stroke-opacity="0.72" stroke-width="1.3" stroke-dasharray="5.3,3.225"/>
<line x1="624.6" y1="83.2" x2="624.6" y2="-83.2" stroke="#1010c4" stroke-opacity="0.72" stroke-width="1.3" stroke-dasharray="5.3,3.225"/>
<text x="42.5" y="-77.4" text-anchor="end" class="t">0.5</text>
<text x="42.5" y="5.8" text-anchor="end" class="t">0</text>
<text x="42.5" y="89" text-anchor="end" class="t">-0.5</text>
<text transform="translate(60.3,98.6) rotate(-45)" text-anchor="end" class="t">1 Jan</text>
<text transform="translate(325.3,98.6) rotate(-45)" text-anchor="end" class="t">LD1.0</text>
<text transform="translate(392.4,98.6) rotate(-45)" text-anchor="end" class="t">LD2.0</text>
<text transform="translate(449.6,98.6) rotate(-45)" text-anchor="end" class="t">LD3.0</text>
<text transform="translate(500.6,98.6) rotate(-45)" text-anchor="end" class="t">LD4.0</text>
<text transform="translate(542.3,98.6) rotate(-45)" text-anchor="end" class="t">UL1.0</text>
<text transform="translate(634.7,98.6) rotate(-45)" text-anchor="end" class="t">1 July.</text>
<text x="366.5" y="-89.9" text-anchor="middle" class="ti">Tamil Nadu</text>
<text x="366.5" y="147.2" text-anchor="middle" class="xl">Calendar Day</text>
<text transform="translate(11.7,0) rotate(-90)" text-anchor="middle" class="xl">AOD</text>
</g>
<g transform="translate(0,1154.4)">
<clipPath id="ca4"><rect x="0" y="-83.7" width="700" height="83.7"/></clipPath>
<clipPath id="cb4"><rect x="0" y="0" width="700" height="83.1"/></clipPath>
<clipPath id="cc4"><rect x="0" y="-83.7" width="700" height="167.4"/></clipPath>
<path d="M47.5,-83.1 L686,-83.1 M47.5,-83.1 L47.5,83.1 M47.5,83.1 L686,83.1" stroke="#a8a8a8" stroke-width="1.3" fill="none"/>
<path d="M50.2,-83.1 V83.1 M315.2,-83.1 V83.1 M382.3,-83.1 V83.1 M439.5,-83.1 V83.1 M490.5,-83.1 V83.1 M532.2,-83.1 V83.1 M624.6,-83.1 V83.1" stroke="#ebebeb" stroke-width="1" fill="none"/>
<line x1="47.5" y1="0" x2="686" y2="0" stroke="#b4b4b4" stroke-width="1.2"/>
<path d="M50.11,0 L50.11,-20.85 L52.15,-24.32 L54.2,-25.96 L56.85,-25.55 L59.31,-22.89 L62.37,-20.85 L65.44,-18.8 L69.53,-15.74 L72.59,-9.2 L75.25,-10.01 L77.7,-7.56 L79.74,-3.88 L81.51,0Z M102.48,0 L103.25,-1.02 L106.31,-9.61 L110.81,-21.46 L114.49,-22.89 L118.58,-25.96 L122.26,-30.45 L125.12,-36.18 L128.8,-45.37 L131.86,-54.57 L133.91,-63.77 L136.56,-67.85 L139.42,-69.28 L142.49,-65.81 L145.15,-69.9 L148.82,-71.94 L152.3,-69.9 L155.36,-66.42 L158.43,-63.77 L161.09,-52.53 L164.56,-36.18 L167.63,-29.02 L171.31,-19.82 L174.78,-21.87 L177.85,-24.32 L180,-28.41 L184.09,-31.68 L189.2,-32.5 L193.9,-36.58 L197.37,-34.13 L203.5,-34.13 L206.57,-32.5 L210.25,-33.11 L212.7,-24.93 L216.38,-20.23 L219.85,-15.74 L222.92,-10.63 L225.99,-7.97 L229.05,-11.65 L232.73,-15.33 L235.18,-14.72 L238.25,-9.2 L241.31,-3.88 L244.38,-2.45 L247.45,-1.02 L250.51,-0.41 L251.74,0Z M298.13,0 L300.58,-2.45 L303.65,-1.43 L304.89,0Z M311.95,0 L313.87,-1.02 L315,-0.41 L315.16,0Z M352.24,0 L353.83,-8.58 L356.9,-19.82 L391.64,-3.88 L393.07,-0.41 L393.22,0Z M397.71,0 L398.8,-1.84 L401.25,-5.52 L403.91,-3.47 L405.34,-0.41 L405.55,0Z M499.55,0 L502.12,-5.52 L505.18,-11.65 L509.27,-14.1 L511.31,-11.65 L513.36,-8.58 L516.42,-8.58 L519.49,-6.95 L522.55,-13.69 L526.64,-13.28 L529.3,-12.67 L531.34,-9.61 L533.39,-4.5 L535.34,0Z M538.5,0 L539.93,-1.43 L542.99,-6.54 L545,-7.56 L548.07,-9.2 L551.13,-11.65 L553.58,-4.5 L556.24,-3.47 L559.31,-1.02 L559.67,0Z" fill="#ff0000" clip-path="url(#cc4)"/>
<path d="M81.51,0 L81.79,0.61 L83.83,4.7 L85.88,7.15 L88.94,8.18 L91.6,7.77 L94.46,8.79 L97.12,4.7 L100.18,3.07 L102.48,0Z M251.74,0 L253.58,0.61 L256.64,3.68 L260.73,7.77 L263.8,12.47 L267.47,16.35 L270.95,15.94 L275.04,14.92 L278.1,16.35 L280.55,19.42 L283.21,18.6 L285.87,14.92 L288.32,8.38 L291.39,3.68 L294.45,1.64 L297.52,0.61 L298.13,0Z M304.89,0 L306.31,1.64 L308.76,4.09 L310.8,0.61 L311.95,0Z M315.16,0 L317.04,4.7 L319.09,10.83 L321.13,21.05 L324.2,32.29 L327.26,33.72 L329.72,30.25 L332.37,26.77 L335.03,25.14 L337.48,24.53 L340.55,21.46 L343.61,23.09 L346.68,24.12 L348.72,16.96 L350.77,9.81 L352.2,0.2 L352.24,0Z M393.22,0 L394.71,4.09 L396.75,1.64 L397.71,0Z M405.55,0 L407.99,4.7 L410.65,10.83 L414.12,13.9 L417.19,16.35 L420.26,16.96 L423.32,17.37 L426.39,14.51 L427.82,19.01 L430.47,25.14 L433.54,26.77 L436.61,25.14 L439.67,23.09 L442.74,21.46 L445.39,27.18 L448.26,30.25 L450,33.31 L453.07,38.01 L456.13,40.47 L458.58,44.55 L461.24,41.49 L464.31,43.94 L467.37,43.94 L470.44,40.47 L474.53,36.99 L477.59,29.23 L480.66,20.03 L484.34,12.47 L487.2,9.2 L490.47,6.74 L493.33,7.77 L495.99,4.7 L498.03,1.64 L499.46,0.2 L499.55,0Z M535.34,0 L535.43,0.2 L537.88,0.61 L538.5,0Z M559.67,0 L561.35,4.7 L563.8,17.99 L565.44,16.96 L567.89,26.16 L571.16,36.38 L573.61,43.53 L576.68,47.21 L579.74,42.51 L583.42,38.42 L586.9,36.38 L589.96,31.27 L593.03,24.12 L594.87,7.77 L596.3,4.7 L599.36,11.24 L602.64,5.52 L602.64,0Z" fill="#0000ff" clip-path="url(#cc4)"/>
<path d="M50.11,0 L50.11,-20.85 L52.15,-24.32 L54.2,-25.96 L56.85,-25.55 L59.31,-22.89 L62.37,-20.85 L65.44,-18.8 L69.53,-15.74 L72.59,-9.2 L75.25,-10.01 L77.7,-7.56 L79.74,-3.88 L81.79,0.61 L83.83,4.7 L85.88,7.15 L88.94,8.18 L91.6,7.77 L94.46,8.79 L97.12,4.7 L100.18,3.07 L103.25,-1.02 L106.31,-9.61 L110.81,-21.46 L114.49,-22.89 L118.58,-25.96 L122.26,-30.45 L125.12,-36.18 L128.8,-45.37 L131.86,-54.57 L133.91,-63.77 L136.56,-67.85 L139.42,-69.28 L142.49,-65.81 L145.15,-69.9 L148.82,-71.94 L152.3,-69.9 L155.36,-66.42 L158.43,-63.77 L161.09,-52.53 L164.56,-36.18 L167.63,-29.02 L171.31,-19.82 L174.78,-21.87 L177.85,-24.32 L180,-28.41 L184.09,-31.68 L189.2,-32.5 L193.9,-36.58 L197.37,-34.13 L203.5,-34.13 L206.57,-32.5 L210.25,-33.11 L212.7,-24.93 L216.38,-20.23 L219.85,-15.74 L222.92,-10.63 L225.99,-7.97 L229.05,-11.65 L232.73,-15.33 L235.18,-14.72 L238.25,-9.2 L241.31,-3.88 L244.38,-2.45 L247.45,-1.02 L250.51,-0.41 L253.58,0.61 L256.64,3.68 L260.73,7.77 L263.8,12.47 L267.47,16.35 L270.95,15.94 L275.04,14.92 L278.1,16.35 L280.55,19.42 L283.21,18.6 L285.87,14.92 L288.32,8.38 L291.39,3.68 L294.45,1.64 L297.52,0.61 L300.58,-2.45 L303.65,-1.43 L306.31,1.64 L308.76,4.09 L310.8,0.61 L313.87,-1.02 L315,-0.41 L317.04,4.7 L319.09,10.83 L321.13,21.05 L324.2,32.29 L327.26,33.72 L329.72,30.25 L332.37,26.77 L335.03,25.14 L337.48,24.53 L340.55,21.46 L343.61,23.09 L346.68,24.12 L348.72,16.96 L350.77,9.81 L352.2,0.2 L353.83,-8.58 L356.9,-19.82 L391.64,-3.88 L393.07,-0.41 L394.71,4.09 L396.75,1.64 L398.8,-1.84 L401.25,-5.52 L403.91,-3.47 L405.34,-0.41 L407.99,4.7 L410.65,10.83 L414.12,13.9 L417.19,16.35 L420.26,16.96 L423.32,17.37 L426.39,14.51 L427.82,19.01 L430.47,25.14 L433.54,26.77 L436.61,25.14 L439.67,23.09 L442.74,21.46 L445.39,27.18 L448.26,30.25 L450,33.31 L453.07,38.01 L456.13,40.47 L458.58,44.55 L461.24,41.49 L464.31,43.94 L467.37,43.94 L470.44,40.47 L474.53,36.99 L477.59,29.23 L480.66,20.03 L484.34,12.47 L487.2,9.2 L490.47,6.74 L493.33,7.77 L495.99,4.7 L498.03,1.64 L499.46,0.2 L502.12,-5.52 L505.18,-11.65 L509.27,-14.1 L511.31,-11.65 L513.36,-8.58 L516.42,-8.58 L519.49,-6.95 L522.55,-13.69 L526.64,-13.28 L529.3,-12.67 L531.34,-9.61 L533.39,-4.5 L535.43,0.2 L537.88,0.61 L539.93,-1.43 L542.99,-6.54 L545,-7.56 L548.07,-9.2 L551.13,-11.65 L553.58,-4.5 L556.24,-3.47 L559.31,-1.02 L561.35,4.7 L563.8,17.99 L565.44,16.96 L567.89,26.16 L571.16,36.38 L573.61,43.53 L576.68,47.21 L579.74,42.51 L583.42,38.42 L586.9,36.38 L589.96,31.27 L593.03,24.12 L594.87,7.77 L596.3,4.7 L599.36,11.24 L602.64,5.52 L602.64,0" fill="none" stroke="#000" stroke-width="0.6" stroke-linejoin="round" clip-path="url(#cc4)"/>
<line x1="50.11" y1="0" x2="637.6" y2="0" stroke="#c5e3f3" stroke-width="1.1"/>
<path d="M50.2,-83.1 v6.5 M50.2,83.1 v-6.5 M315.2,-83.1 v6.5 M315.2,83.1 v-6.5 M382.3,-83.1 v6.5 M382.3,83.1 v-6.5 M439.5,-83.1 v6.5 M439.5,83.1 v-6.5 M490.5,-83.1 v6.5 M490.5,83.1 v-6.5 M532.2,-83.1 v6.5 M532.2,83.1 v-6.5 M624.6,-83.1 v6.5 M624.6,83.1 v-6.5 M47.5,-83.1 h6.5 M47.5,0 h6.5 M47.5,83.1 h6.5" stroke="#858585" stroke-width="1" fill="none"/>
<line x1="315.2" y1="83.1" x2="315.2" y2="-83.1" stroke="#d2242c" stroke-opacity="0.72" stroke-width="1.3" stroke-dasharray="5.3,3.225"/>
<line x1="382.3" y1="83.1" x2="382.3" y2="-83.1" stroke="#d2242c" stroke-opacity="0.72" stroke-width="1.3" stroke-dasharray="5.3,3.225"/>
<line x1="490.5" y1="83.1" x2="490.5" y2="-83.1" stroke="#d2242c" stroke-opacity="0.72" stroke-width="1.3" stroke-dasharray="5.3,3.225"/>
<line x1="532.2" y1="83.1" x2="532.2" y2="-83.1" stroke="#1010c4" stroke-opacity="0.72" stroke-width="1.3" stroke-dasharray="5.3,3.225"/>
<line x1="624.6" y1="83.1" x2="624.6" y2="-83.1" stroke="#1010c4" stroke-opacity="0.72" stroke-width="1.3" stroke-dasharray="5.3,3.225"/>
<text x="42.5" y="-77.3" text-anchor="end" class="t">0.5</text>
<text x="42.5" y="5.8" text-anchor="end" class="t">0</text>
<text x="42.5" y="88.9" text-anchor="end" class="t">-0.5</text>
<text transform="translate(60.3,98.5) rotate(-45)" text-anchor="end" class="t">1 Jan</text>
<text transform="translate(325.3,98.5) rotate(-45)" text-anchor="end" class="t">LD1.0</text>
<text transform="translate(392.4,98.5) rotate(-45)" text-anchor="end" class="t">LD2.0</text>
<text transform="translate(449.6,98.5) rotate(-45)" text-anchor="end" class="t">LD3.0</text>
<text transform="translate(500.6,98.5) rotate(-45)" text-anchor="end" class="t">LD4.0</text>
<text transform="translate(542.3,98.5) rotate(-45)" text-anchor="end" class="t">UL1.0</text>
<text transform="translate(634.7,98.5) rotate(-45)" text-anchor="end" class="t">1 July.</text>
<text x="366.5" y="-89.5" text-anchor="middle" class="ti">NorthEast</text>
<text x="366.5" y="147.1" text-anchor="middle" class="xl">Calendar Day</text>
<text transform="translate(11.7,0) rotate(-90)" text-anchor="middle" class="xl">AOD</text>
</g>
</svg>
</body></html>
